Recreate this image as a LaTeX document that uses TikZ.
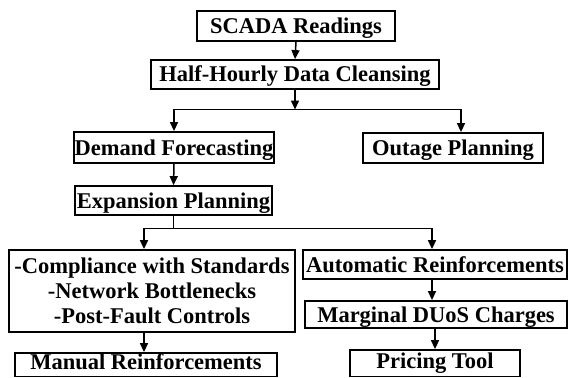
\documentclass[tikz,border=0pt]{standalone}
\usepackage{fontspec}
\setmainfont{Liberation Serif}
\usetikzlibrary{arrows.meta}
\tikzset{
  stepbox/.style={draw, line width=1.8pt, inner sep=0pt, align=center,
    font=\fontsize{22.5}{25}\selectfont\bfseries},
  onebox/.style={stepbox, text height=15pt, text depth=0pt},
  conn/.style={line width=1.5pt},
  arr/.style={conn, -{Triangle[length=9pt,width=8pt]}},
  darr/.style={conn, {Triangle[length=9pt,width=8pt]}-{Triangle[length=9pt,width=8pt]}}
}
\begin{document}
\begin{tikzpicture}[x=1pt,y=-1pt]
\useasboundingbox (0,0) rectangle (569,377);
\node[onebox, minimum width=198pt, minimum height=30pt] (scada) at (296,26) {SCADA Readings};
\node[onebox, minimum width=288pt, minimum height=29pt] (hh) at (295,74.5) {Half-Hourly Data Cleansing};
\node[onebox, minimum width=200pt, minimum height=31pt] (demand) at (174,147.5) {Demand Forecasting};
\node[onebox, minimum width=180pt, minimum height=30pt] (outage) at (453,148) {Outage Planning};
\node[onebox, minimum width=197pt, minimum height=29pt] (exp) at (173.5,200.5) {Expansion Planning};
\node[stepbox, minimum width=286pt, minimum height=82pt] (comp) at (152,291) {-Compliance with Standards\\-Network Bottlenecks\\-Post-Fault Controls};
\node[onebox, minimum width=264pt, minimum height=29pt] (auto) at (435,264.5) {Automatic Reinforcements};
\node[onebox, minimum width=262pt, minimum height=27pt] (marg) at (436,314.5) {Marginal DUoS Charges};
\node[onebox, text depth=5.5pt, minimum width=262pt, minimum height=23.5pt] (manual) at (146,364.75) {Manual Reinforcements};
\node[onebox, text depth=4pt, minimum width=170pt, minimum height=26.5pt] (pricing) at (435,363.25) {Pricing Tool};

\coordinate (jl) at (174,109.5);
\coordinate (jr) at (461,109.5);
\coordinate (kl) at (144,228.5);
\coordinate (kr) at (432,228.5);

\draw[arr] (scada.south) -- (hh.north);
\draw[arr] (hh.south) -- (hh.south |- jl);
\draw[darr] (jl |- demand.north) -- (jl) -- (jr) -- (jr |- outage.north);
\draw[arr] (demand.south) -- (exp.north);
\draw[conn] (exp.south) -- (exp.south |- kl);
\draw[darr] (kl |- comp.north) -- (kl) -- (kr) -- (kr |- auto.north);
\draw[arr] (kl |- comp.south) -- (kl |- manual.north);
\draw[arr] (kr |- auto.south) -- (kr |- marg.north);
\draw[arr] (pricing.north |- marg.south) -- (pricing.north);
\end{tikzpicture}
\end{document}
